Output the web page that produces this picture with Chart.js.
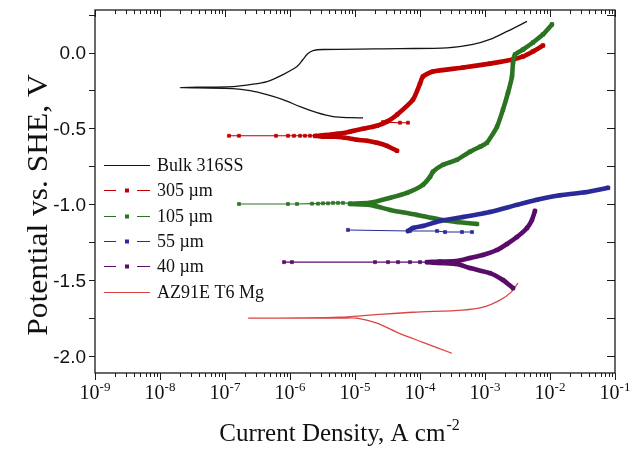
<!DOCTYPE html>
<html>
<head>
<meta charset="utf-8">
<script src="https://cdn.jsdelivr.net/npm/chart.js@4.4.1/dist/chart.umd.min.js"></script>
<style>
  html, body { margin: 0; padding: 0; background: #ffffff; }
  #wrap { width: 633px; height: 451px; }
</style>
</head>
<body>
<div id="wrap"><canvas id="chart" width="633" height="451"></canvas></div>
<script>
// Potentiodynamic polarization curves: current density (A cm^-2) vs. potential (V vs. SHE)

// Bulk 316SS
const bulkCurrent = [1.33e-5, 8.38e-6, 4.59e-6, 2.60e-6, 1.43e-6, 7.80e-7, 4.43e-7, 2.43e-7, 1.33e-7, 2.03e-8,
  1.33e-7, 2.43e-7, 4.43e-7, 7.80e-7, 1.28e-6, 1.58e-6, 1.89e-6, 2.26e-6, 3.22e-6, 4.92e-5, 2.60e-4, 6.53e-4,
  1.19e-3, 2.18e-3, 4.43e-3];
const bulkPotential = [-0.430, -0.429, -0.422, -0.396, -0.356, -0.310, -0.277, -0.251, -0.238, -0.231,
  -0.224, -0.211, -0.191, -0.145, -0.092, -0.046, -0.007, 0.013, 0.020, 0.026, 0.030, 0.053,
  0.086, 0.139, 0.205];

// 305 um coating: sparse scan near Ecorr, short excursion, and dense branches
const c305TipCurrent = [1.15e-7, 1.64e-7, 6.10e-7, 9.31e-7, 1.15e-6, 1.43e-6, 1.70e-6, 2.03e-6, 2.43e-6];
const c305TipPotential = [-0.548, -0.548, -0.548, -0.548, -0.548, -0.548, -0.548, -0.548, -0.549];
const c305StubCurrent = [2.70e-5, 4.92e-5, 6.53e-5];
const c305StubPotential = [-0.458, -0.462, -0.462];
const c305Current = [4.43e-5, 3.10e-5, 2.18e-5, 1.53e-5, 1.07e-5, 7.01e-6, 4.92e-6, 3.22e-6, 2.43e-6,
  3.22e-6, 5.28e-6, 8.38e-6, 1.33e-5, 2.18e-5, 3.10e-5, 4.43e-5, 7.80e-5, 1.00e-4, 1.11e-4, 1.58e-4,
  4.59e-4, 1.19e-3, 2.70e-3, 3.85e-3, 5.47e-3, 7.80e-3];
const c305Potential = [-0.647, -0.614, -0.594, -0.581, -0.574, -0.561, -0.554, -0.554, -0.550,
  -0.545, -0.535, -0.521, -0.502, -0.482, -0.455, -0.409, -0.310, -0.205, -0.158, -0.125,
  -0.099, -0.073, -0.046, -0.026, 0.007, 0.046];

// 105 um coating
const c105TipCurrent = [1.64e-7, 9.31e-7, 1.28e-6, 2.18e-6, 2.70e-6, 3.22e-6, 3.85e-6, 4.59e-6, 5.47e-6, 6.53e-6, 8.38e-6];
const c105TipPotential = [-0.997, -0.997, -0.997, -0.995, -0.995, -0.993, -0.993, -0.990, -0.990, -0.990, -0.993];
const c105Current = [7.53e-4, 3.71e-4, 1.83e-4, 8.99e-5, 3.45e-5, 1.70e-5, 8.38e-6, 1.70e-5, 3.45e-5, 6.31e-5,
  1.11e-4, 1.43e-4, 1.58e-4, 2.26e-4, 3.71e-4, 5.87e-4, 8.38e-4, 1.07e-3, 1.53e-3, 1.89e-3,
  2.26e-3, 2.60e-3, 2.70e-3, 2.90e-3, 3.85e-3, 5.47e-3, 7.80e-3, 1.07e-2];
const c105Potential = [-1.129, -1.116, -1.096, -1.069, -1.036, -1.003, -0.997, -0.990, -0.957, -0.924,
  -0.871, -0.818, -0.785, -0.739, -0.706, -0.653, -0.620, -0.594, -0.488, -0.376,
  -0.264, -0.158, -0.066, -0.013, 0.020, 0.066, 0.119, 0.185];

// 55 um coating
const c55TipCurrent = [7.80e-6, 7.01e-5, 1.83e-4, 2.43e-4, 4.43e-4, 6.31e-4];
const c55TipPotential = [-1.168, -1.175, -1.175, -1.182, -1.182, -1.182];
const c55Current = [6.53e-5, 7.80e-5, 1.11e-4, 2.03e-4, 4.59e-4, 1.19e-3, 3.10e-3, 6.31e-3, 1.43e-2, 3.45e-2, 7.80e-2];
const c55Potential = [-1.175, -1.155, -1.142, -1.109, -1.083, -1.050, -1.003, -0.970, -0.940, -0.920, -0.891];

// 40 um coating
const c40TipCurrent = [8.09e-7, 1.07e-6, 2.03e-5, 3.22e-5, 4.59e-5, 7.01e-5, 1.00e-4, 1.28e-4];
const c40TipPotential = [-1.380, -1.380, -1.380, -1.380, -1.380, -1.380, -1.380, -1.380];
const c40Current = [2.70e-3, 1.89e-3, 1.19e-3, 5.87e-4, 3.71e-4, 2.03e-4, 1.28e-4, 2.03e-4, 3.71e-4,
  5.87e-4, 9.31e-4, 1.53e-3, 2.18e-3, 3.10e-3, 4.43e-3, 5.28e-3, 5.87e-3];
const c40Potential = [-1.551, -1.498, -1.452, -1.419, -1.393, -1.386, -1.380, -1.376, -1.373,
  -1.353, -1.333, -1.300, -1.261, -1.215, -1.155, -1.102, -1.043];

// AZ91E-T6 Mg substrate
const mgCurrent = [3.10e-4, 1.11e-4, 4.43e-5, 2.18e-5, 1.07e-5, 5.87e-6, 2.34e-7, 1.43e-6, 5.87e-6,
  1.70e-5, 7.80e-5, 4.59e-4, 9.31e-4, 1.70e-3, 2.43e-3, 3.22e-3];
const mgPotential = [-1.980, -1.908, -1.842, -1.782, -1.749, -1.749, -1.749, -1.747, -1.742,
  -1.729, -1.710, -1.696, -1.677, -1.630, -1.584, -1.518];

// Axis ticks
const xTickExponents = [-9, -8, -7, -6, -5, -4, -3, -2, -1];
const yTickValues = [0.0, -0.5, -1.0, -1.5, -2.0];
const yTickLabels = ['0.0', '-0.5', '-1.0', '-1.5', '-2.0'];
const yMinorStep = 0.25;

const SERIF = '"Liberation Serif", "Times New Roman", serif';
const SANS = '"Liberation Sans", Arial, sans-serif';

const styles = {
  plain: { borderWidth: 1.3, pointRadius: 0, tension: 0.3 },
  thin:  { borderWidth: 1.1, pointRadius: 2.2, pointBorderWidth: 0.6, tension: 0 },
  thick: { borderWidth: 4.6, pointRadius: 2.5, pointBorderWidth: 0.6, tension: 0.2,
           borderJoinStyle: 'round', borderCapStyle: 'round' }
};

const series = [
  { label: 'Bulk 316SS', color: '#151515', marker: false, layer: 5, runs: [[bulkCurrent, bulkPotential, 'plain']] },
  { label: '305 \u00b5m', color: '#c00000', marker: true, layer: 3,
    runs: [[c305TipCurrent, c305TipPotential, 'thin'], [c305StubCurrent, c305StubPotential, 'thin'], [c305Current, c305Potential, 'thick']] },
  { label: '105 \u00b5m', color: '#2b7522', marker: true, layer: 2,
    runs: [[c105TipCurrent, c105TipPotential, 'thin'], [c105Current, c105Potential, 'thick']] },
  { label: '55 \u00b5m', color: '#2a2a98', marker: true, layer: 1,
    runs: [[c55TipCurrent, c55TipPotential, 'thin'], [c55Current, c55Potential, 'thick']] },
  { label: '40 \u00b5m', color: '#590c68', marker: true, layer: 4,
    runs: [[c40TipCurrent, c40TipPotential, 'thin'], [c40Current, c40Potential, 'thick']] },
  { label: 'AZ91E T6 Mg', color: '#da4545', marker: false, layer: 6, runs: [[mgCurrent, mgPotential, 'plain']] }
];

const datasets = [];
series.forEach(s => {
  s.runs.forEach(([cur, pot, kind]) => {
    datasets.push(Object.assign({
      label: s.label,
      data: cur.map((v, k) => ({ x: v, y: pot[k] })),
      borderColor: s.color,
      backgroundColor: s.color,
      pointBackgroundColor: s.color,
      pointBorderColor: s.color,
      pointStyle: 'rect',
      showLine: true,
      fill: false,
      order: s.layer
    }, styles[kind]));
  });
});

// Frame, ticks, labels, titles and legend drawn on the chart's own scales
const decorations = {
  id: 'decorations',
  afterDatasetsDraw(chart) {
    const { ctx, chartArea: a } = chart;
    const xs = chart.scales.x, ys = chart.scales.y;
    ctx.save();
    ctx.strokeStyle = '#1a1a1a';
    ctx.lineWidth = 1.3;
    ctx.strokeRect(a.left, a.top, a.right - a.left, a.bottom - a.top);

    ctx.lineWidth = 1;
    ctx.beginPath();
    // log ticks on bottom (outward) and top (inward)
    for (let i = 0; i < xTickExponents.length; i++) {
      const e = xTickExponents[i];
      for (let k = 1; k <= 9; k++) {
        if (i === xTickExponents.length - 1 && k > 1) break;
        const px = Math.round(xs.getPixelForValue(k * Math.pow(10, e))) + 0.5;
        const len = k === 1 ? 7 : 4;
        ctx.moveTo(px, a.bottom); ctx.lineTo(px, a.bottom + len);
        ctx.moveTo(px, a.top); ctx.lineTo(px, a.top + len);
      }
    }
    // potential ticks: left outward, right inward
    for (let v = 0.25; v >= ys.min - 1e-9; v -= yMinorStep) {
      const py = Math.round(ys.getPixelForValue(v)) + 0.5;
      ctx.moveTo(a.left - 6, py); ctx.lineTo(a.left, py);
      ctx.moveTo(a.right - 8, py); ctx.lineTo(a.right, py);
    }
    ctx.stroke();

    ctx.fillStyle = '#111';
    // y tick labels
    ctx.font = '19px ' + SANS;
    ctx.textAlign = 'right';
    ctx.textBaseline = 'middle';
    yTickValues.forEach((v, i) => ctx.fillText(yTickLabels[i], a.left - 9, ys.getPixelForValue(v) + 1));

    // x tick labels as 10 with superscript exponent
    ctx.textBaseline = 'alphabetic';
    ctx.textAlign = 'left';
    xTickExponents.forEach(e => {
      const px = xs.getPixelForValue(Math.pow(10, e));
      ctx.font = '20px ' + SERIF;
      const wb = ctx.measureText('10').width;
      ctx.font = '13px ' + SERIF;
      const sup = String(e);
      const ws = ctx.measureText(sup).width;
      const x0 = px - (wb + ws) / 2;
      ctx.font = '20px ' + SERIF;
      ctx.fillText('10', x0, 399);
      ctx.font = '13px ' + SERIF;
      ctx.fillText(sup, x0 + wb, 391);
    });

    // x axis title
    ctx.font = '25px ' + SERIF;
    const tMain = 'Current Density, A cm';
    const wMain = ctx.measureText(tMain).width;
    ctx.font = '16px ' + SERIF;
    const wSup = ctx.measureText('-2').width;
    const tx = 339 - (wMain + wSup) / 2;
    ctx.font = '25px ' + SERIF;
    ctx.fillText(tMain, tx, 441);
    ctx.font = '16px ' + SERIF;
    ctx.fillText('-2', tx + wMain + 1, 430);

    // y axis title
    ctx.save();
    ctx.translate(47, 205);
    ctx.rotate(-Math.PI / 2);
    ctx.scale(1.05, 1);
    ctx.font = '30px ' + SERIF;
    ctx.textAlign = 'center';
    ctx.fillText('Potential vs. SHE, V', 0, 0);
    ctx.restore();

    // legend
    const rowTop = 165, rowStep = 25.3;
    series.forEach((s, i) => {
      const cy = Math.round(rowTop + i * rowStep) + 0.5;
      ctx.strokeStyle = s.color;
      ctx.lineWidth = 1.1;
      ctx.beginPath();
      if (s.marker) {
        ctx.moveTo(104, cy); ctx.lineTo(116, cy);
        ctx.moveTo(137, cy); ctx.lineTo(150, cy);
      } else {
        ctx.moveTo(104, cy); ctx.lineTo(150, cy);
      }
      ctx.stroke();
      if (s.marker) {
        ctx.fillStyle = s.color;
        ctx.fillRect(125, cy - 2, 4, 4);
      }
      ctx.fillStyle = '#111';
      ctx.font = '18px ' + SERIF;
      ctx.textAlign = 'left';
      ctx.textBaseline = 'middle';
      ctx.fillText(s.label, 157, cy + 1);
    });
    ctx.restore();
  }
};

new Chart(document.getElementById('chart'), {
  type: 'line',
  data: { datasets },
  options: {
    responsive: false,
    animation: false,
    events: [],
    devicePixelRatio: 1,
    layout: { padding: { left: 95, right: 18, top: 10, bottom: 78 } },
    scales: {
      x: { type: 'logarithmic', min: 1e-9, max: 1e-1, display: false },
      y: { type: 'linear', min: -2.11, max: 0.28, display: false }
    },
    plugins: { legend: { display: false }, tooltip: { enabled: false } }
  },
  plugins: [decorations]
});
</script>
</body>
</html>
